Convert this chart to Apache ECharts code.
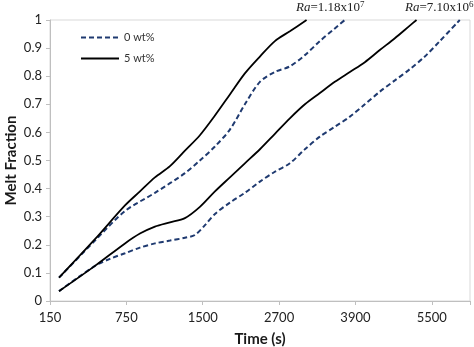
<!DOCTYPE html>
<html><head><meta charset="utf-8">
<script src="https://cdn.jsdelivr.net/npm/echarts@6/dist/echarts.min.js"></script>
<style>html,body{margin:0;padding:0;background:#fff}#c{width:474px;height:347px}</style>
</head><body><div id="c"></div>
<script>
// x tick labels (category-style positions 0..5)
const xTickLabels = ['150', '750', '1500', '2700', '3900', '5500'];
// positions along the x axis (in label-interval units)
const xBlackTop = [0.118,0.589,0.982,1.178,1.374,1.571,1.767,1.963,2.160,2.356,2.552,2.749,2.945,3.141,3.36];
const yBlackTop = [0.083,0.22,0.34,0.39,0.44,0.48,0.535,0.59,0.66,0.735,0.81,0.87,0.925,0.96,1.0];
const xBlueTop = [0.118,0.589,0.982,1.374,1.767,1.963,2.160,2.356,2.552,2.749,2.945,3.141,3.338,3.534,3.730,3.86];
const yBlueTop = [0.083,0.215,0.32,0.385,0.455,0.5,0.55,0.61,0.70,0.78,0.815,0.835,0.875,0.925,0.97,1.0];
const xBlackBot = [0.118,0.589,0.982,1.178,1.374,1.571,1.767,1.963,2.160,2.356,2.552,2.749,2.945,3.141,3.338,3.534,3.730,3.927,4.123,4.319,4.516,4.712,4.80];
const yBlackBot = [0.035,0.125,0.205,0.24,0.265,0.28,0.295,0.335,0.39,0.44,0.49,0.54,0.595,0.65,0.70,0.74,0.78,0.815,0.85,0.893,0.935,0.98,1.0];
const xBlueBot = [0.118,0.589,0.785,0.982,1.178,1.374,1.571,1.767,1.898,2.029,2.160,2.356,2.552,2.749,2.945,3.141,3.338,3.534,3.730,3.927,4.123,4.319,4.516,4.712,4.908,5.105,5.366];
const yBlueBot = [0.035,0.125,0.15,0.17,0.19,0.205,0.215,0.225,0.235,0.27,0.31,0.35,0.385,0.425,0.46,0.49,0.54,0.585,0.62,0.656,0.70,0.745,0.785,0.825,0.87,0.925,1.0];

const zip = (xs, ys) => xs.map((x, i) => [x, ys[i]]);
const blue = '#1f3a70';
const FONT = 'Lato';
const chart = echarts.init(document.getElementById('c'));
chart.setOption({
  animation: false,
  grid: {left: 50, right: 4, top: 20, bottom: 46, show: true, borderColor: '#d9d9d9', borderWidth: 1,
         containLabel: false, outerBoundsMode: 'none'},
  legend: {
    orient: 'vertical', left: 80, top: 32, padding: 0, itemWidth: 38, itemHeight: 10, itemGap: 10,
    itemStyle: {opacity: 0},
    textStyle: {fontFamily: FONT, fontSize: 11, color: '#333'},
    data: ['0 wt%', '5 wt%']
  },
  xAxis: {
    type: 'value', min: 0, max: 5.5, interval: 1,
    name: 'Time (s)', nameLocation: 'middle', nameGap: 31, nameMoveOverlap: false,
    nameTextStyle: {fontFamily: FONT, fontWeight: 'bold', fontSize: 15, color: '#1a1a1a'},
    axisLine: {lineStyle: {color: '#bfbfbf'}},
    axisTick: {show: true, length: 4, lineStyle: {color: '#bfbfbf'}},
    splitLine: {show: false},
    axisLabel: {fontFamily: FONT, fontSize: 13, color: '#222', margin: 10,
      formatter: v => (Number.isInteger(v) ? xTickLabels[v] : '')}
  },
  yAxis: {
    type: 'value', min: 0, max: 1, interval: 0.1,
    name: 'Melt Fraction', nameLocation: 'middle', nameGap: 31, nameMoveOverlap: false,
    nameTextStyle: {fontFamily: FONT, fontWeight: 'bold', fontSize: 15, color: '#1a1a1a'},
    axisLine: {show: true, lineStyle: {color: '#bfbfbf'}},
    axisTick: {show: true, length: 4, lineStyle: {color: '#bfbfbf'}},
    splitLine: {show: false},
    axisLabel: {fontFamily: FONT, fontSize: 13, color: '#222', margin: 8,
      formatter: v => String(Math.round(v * 10) / 10)}
  },
  series: [
    {name: '0 wt%', type: 'line', showSymbol: false, symbol: 'none', smooth: 0.3,
     data: zip(xBlueTop, yBlueTop), lineStyle: {color: blue, width: 2, type: [5, 3]}, itemStyle: {color: blue}},
    {name: '0 wt%', type: 'line', showSymbol: false, symbol: 'none', smooth: 0.3,
     data: zip(xBlueBot, yBlueBot), lineStyle: {color: blue, width: 2, type: [5, 3]}, itemStyle: {color: blue}},
    {name: '5 wt%', type: 'line', showSymbol: false, symbol: 'none', smooth: 0.3,
     data: zip(xBlackTop, yBlackTop), lineStyle: {color: '#000', width: 1.8}, itemStyle: {color: '#000'}},
    {name: '5 wt%', type: 'line', showSymbol: false, symbol: 'none', smooth: 0.3,
     data: zip(xBlackBot, yBlackBot), lineStyle: {color: '#000', width: 1.8}, itemStyle: {color: '#000'}}
  ],
  graphic: [
    {type: 'text', left: 296, top: 0, style: {
      text: '{i|Ra}{n|=1.18x10}{s|7}',
      rich: {i: {fontFamily: 'Liberation Serif', fontStyle: 'italic', fontSize: 13, fill: '#222'},
             n: {fontFamily: 'Liberation Serif', fontSize: 13, fill: '#222'},
             s: {fontFamily: 'Liberation Serif', fontSize: 9, fill: '#222', verticalAlign: 'top', padding: [0, 0, 6, 0]}}}},
    {type: 'text', left: 405, top: 0, style: {
      text: '{i|Ra}{n|=7.10x10}{s|6}',
      rich: {i: {fontFamily: 'Liberation Serif', fontStyle: 'italic', fontSize: 13, fill: '#222'},
             n: {fontFamily: 'Liberation Serif', fontSize: 13, fill: '#222'},
             s: {fontFamily: 'Liberation Serif', fontSize: 9, fill: '#222', verticalAlign: 'top', padding: [0, 0, 6, 0]}}}}
  ]
});
</script></body></html>
